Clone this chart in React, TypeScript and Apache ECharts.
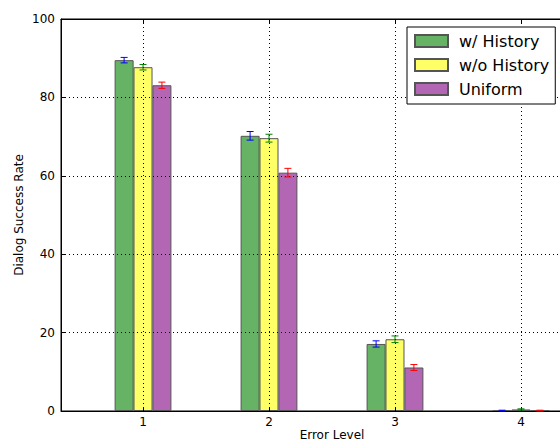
import React, { useEffect, useRef } from "react";
import * as echarts from "echarts";

const levels = [1, 2, 3, 4];
const seriesNames = ["w/ History", "w/o History", "Uniform"];
const withHistory = [89.5, 70.2, 17.1, 0.1];
const withHistoryErr = [0.7, 1.1, 0.8, 0.1];
const withoutHistory = [87.7, 69.6, 18.3, 0.4];
const withoutHistoryErr = [0.7, 1.0, 0.85, 0.15];
const uniform = [83.1, 60.8, 11.1, 0.1];
const uniformErr = [0.8, 1.1, 0.75, 0.1];
const yTicks = [0, 20, 40, 60, 80, 100];

const BAR_UNITS = 0.15;
const X_MIN = 0.349;
const X_MAX = 4.651;
const barColors = ["#66b366", "#ffff66", "#b366b3"];
const errColors = ["#0000ff", "#008000", "#ff0000"];
const FONT = "DejaVu Sans";

export default function App() {
  const ref = useRef<HTMLDivElement>(null);
  useEffect(() => {
    if (!ref.current) return;
    const chart = echarts.init(ref.current, undefined, { renderer: "svg" });
    const values = [withHistory, withoutHistory, uniform];
    const errs = [withHistoryErr, withoutHistoryErr, uniformErr];
    const offsets = [-BAR_UNITS, 0, BAR_UNITS];

    const barSeries = values.map((vals, i) => ({
      type: "bar",
      name: seriesNames[i],
      data: levels.map((l, j) => [l + offsets[i], vals[j]]),
      barWidth: 19,
      barGap: "-100%",
      itemStyle: { color: barColors[i], borderColor: "#555", borderWidth: 1 },
      z: 2,
    }));

    const errSeries = values.map((vals, i) => ({
      type: "custom",
      name: "err" + i,
      data: levels.map((l, j) => [l + offsets[i], vals[j] - errs[i][j], vals[j] + errs[i][j]]),
      encode: { x: 0, y: [1, 2] },
      z: 5,
      renderItem: (params: any, api: any) => {
        const x = api.value(0);
        const top = api.coord([x, api.value(2)]);
        const bot = api.coord([x, api.value(1)]);
        const c = 3.5;
        const st = { stroke: errColors[i], lineWidth: 1 };
        return {
          type: "group",
          children: [
            { type: "line", shape: { x1: top[0], y1: top[1], x2: bot[0], y2: bot[1] }, style: st },
            { type: "line", shape: { x1: top[0] - c, y1: top[1], x2: top[0] + c, y2: top[1] }, style: st },
            { type: "line", shape: { x1: bot[0] - c, y1: bot[1], x2: bot[0] + c, y2: bot[1] }, style: st },
          ],
        };
      },
    }));

    const xLabel = (v: number) =>
      Math.abs(v - Math.round(v)) < 1e-6 && levels.includes(Math.round(v)) ? String(Math.round(v)) : "";

    chart.setOption({
      animation: false,
      textStyle: { fontFamily: FONT },
      grid: {
        left: 61,
        top: 19,
        bottom: 33,
        right: -43,
        containLabel: false,
        outerBoundsMode: "none",
        show: true,
        borderColor: "#000",
        borderWidth: 1,
      },
      legend: {
        data: seriesNames,
        orient: "vertical",
        left: 407,
        top: 27,
        itemWidth: 33,
        itemHeight: 12,
        itemGap: 8,
        padding: [6, 6, 7, 7],
        backgroundColor: "#fff",
        borderColor: "#000",
        borderWidth: 1,
        borderRadius: 0,
        z: 10,
        icon: "rect",
        textStyle: { fontFamily: FONT, fontSize: 16, color: "#000", lineHeight: 16, padding: [0, 0, 0, 6] },
      },
      xAxis: [
        {
          type: "value",
          min: X_MIN,
          max: X_MAX,
          splitNumber: 4,
          z: 3,
          name: "Error Level",
          nameLocation: "middle",
          nameGap: 17,
          nameMoveOverlap: false,
          nameTextStyle: { fontFamily: FONT, fontSize: 12, color: "#000", lineHeight: 13 },
          axisLine: { show: true, lineStyle: { color: "#000", width: 1 } },
          axisTick: { show: true, inside: true, length: 4, lineStyle: { color: "#000" } },
          axisLabel: { formatter: xLabel, margin: 5, fontFamily: FONT, fontSize: 12, color: "#000" },
          splitLine: { show: true, lineStyle: { color: "#000", type: [1, 3], width: 1 } },
        },
        {
          type: "value",
          position: "top",
          min: X_MIN,
          max: X_MAX,
          splitNumber: 4,
          z: 3,
          axisLine: { show: true, lineStyle: { color: "#000", width: 1 } },
          axisTick: { show: true, inside: true, length: 4, lineStyle: { color: "#000" } },
          axisLabel: { show: false },
          splitLine: { show: false },
        },
      ],
      yAxis: {
        type: "value",
        min: yTicks[0],
        max: yTicks[yTicks.length - 1],
        interval: yTicks[1] - yTicks[0],
        z: 3,
        name: "Dialog Success Rate",
        nameLocation: "middle",
        nameGap: 36,
        nameMoveOverlap: false,
        nameTextStyle: { fontFamily: FONT, fontSize: 12, color: "#000" },
        axisLine: { show: true, lineStyle: { color: "#000", width: 1 } },
        axisTick: { show: true, inside: true, length: 4, lineStyle: { color: "#000" } },
        axisLabel: { margin: 6, fontFamily: FONT, fontSize: 12, color: "#000" },
        splitLine: { show: true, lineStyle: { color: "#000", type: [1, 3], width: 1 } },
      },
      series: [...barSeries, ...errSeries],
    });
    return () => chart.dispose();
  }, []);
  return <div ref={ref} style={{ position: "absolute", left: 0, top: 0, width: 560, height: 444 }} />;
}
